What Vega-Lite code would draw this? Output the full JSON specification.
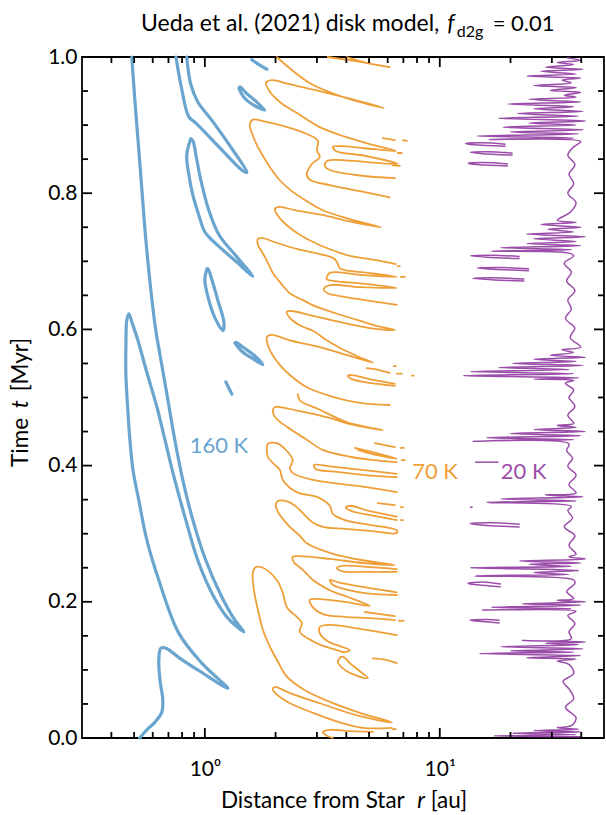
{
  "$schema": "https://vega.github.io/schema/vega-lite/v6.json",
  "width": 522,
  "height": 681,
  "autosize": "none",
  "padding": {"left": 82, "top": 57, "right": 2, "bottom": 77},
  "background": "white",
  "config": {
    "view": {"stroke": "#000", "strokeWidth": 1.8},
    "axis": {"domain": false, "grid": false, "ticks": false, "labelFont": "Lato", "labelFontSize": 21, "labelColor": "#000", "labelFlush": false, "labelOverlap": false},
    "text": {"font": "Lato", "color": "#000"}
  },
  "resolve": {"axis": {"x": "independent", "y": "independent"}},
  "datasets": {
    "ticks": [
      {"g":"a1","x":0,"t":0},{"g":"a1","x":0,"t":0.0147},{"g":"a2","x":0,"t":1},{"g":"a2","x":0,"t":0.9853},
      {"g":"a3","x":1,"t":0},{"g":"a3","x":1,"t":0.0147},{"g":"a4","x":1,"t":1},{"g":"a4","x":1,"t":0.9853},
      {"g":"mb1","x":-0.3979,"t":0},{"g":"mb1","x":-0.3979,"t":0.0088},{"g":"mt1","x":-0.3979,"t":1},{"g":"mt1","x":-0.3979,"t":0.9912},
      {"g":"mb2","x":-0.301,"t":0},{"g":"mb2","x":-0.301,"t":0.0088},{"g":"mt2","x":-0.301,"t":1},{"g":"mt2","x":-0.301,"t":0.9912},
      {"g":"mb3","x":-0.2218,"t":0},{"g":"mb3","x":-0.2218,"t":0.0088},{"g":"mt3","x":-0.2218,"t":1},{"g":"mt3","x":-0.2218,"t":0.9912},
      {"g":"mb4","x":-0.1549,"t":0},{"g":"mb4","x":-0.1549,"t":0.0088},{"g":"mt4","x":-0.1549,"t":1},{"g":"mt4","x":-0.1549,"t":0.9912},
      {"g":"mb5","x":-0.0969,"t":0},{"g":"mb5","x":-0.0969,"t":0.0088},{"g":"mt5","x":-0.0969,"t":1},{"g":"mt5","x":-0.0969,"t":0.9912},
      {"g":"mb6","x":-0.0458,"t":0},{"g":"mb6","x":-0.0458,"t":0.0088},{"g":"mt6","x":-0.0458,"t":1},{"g":"mt6","x":-0.0458,"t":0.9912},
      {"g":"mb7","x":0.301,"t":0},{"g":"mb7","x":0.301,"t":0.0088},{"g":"mt7","x":0.301,"t":1},{"g":"mt7","x":0.301,"t":0.9912},
      {"g":"mb8","x":0.4771,"t":0},{"g":"mb8","x":0.4771,"t":0.0088},{"g":"mt8","x":0.4771,"t":1},{"g":"mt8","x":0.4771,"t":0.9912},
      {"g":"mb9","x":0.6021,"t":0},{"g":"mb9","x":0.6021,"t":0.0088},{"g":"mt9","x":0.6021,"t":1},{"g":"mt9","x":0.6021,"t":0.9912},
      {"g":"mb10","x":0.699,"t":0},{"g":"mb10","x":0.699,"t":0.0088},{"g":"mt10","x":0.699,"t":1},{"g":"mt10","x":0.699,"t":0.9912},
      {"g":"mb11","x":0.7782,"t":0},{"g":"mb11","x":0.7782,"t":0.0088},{"g":"mt11","x":0.7782,"t":1},{"g":"mt11","x":0.7782,"t":0.9912},
      {"g":"mb12","x":0.8451,"t":0},{"g":"mb12","x":0.8451,"t":0.0088},{"g":"mt12","x":0.8451,"t":1},{"g":"mt12","x":0.8451,"t":0.9912},
      {"g":"mb13","x":0.9031,"t":0},{"g":"mb13","x":0.9031,"t":0.0088},{"g":"mt13","x":0.9031,"t":1},{"g":"mt13","x":0.9031,"t":0.9912},
      {"g":"mb14","x":0.9542,"t":0},{"g":"mb14","x":0.9542,"t":0.0088},{"g":"mt14","x":0.9542,"t":1},{"g":"mt14","x":0.9542,"t":0.9912},
      {"g":"mb15","x":1.301,"t":0},{"g":"mb15","x":1.301,"t":0.0088},{"g":"mt15","x":1.301,"t":1},{"g":"mt15","x":1.301,"t":0.9912},
      {"g":"mb16","x":1.4771,"t":0},{"g":"mb16","x":1.4771,"t":0.0088},{"g":"mt16","x":1.4771,"t":1},{"g":"mt16","x":1.4771,"t":0.9912},
      {"g":"mb17","x":1.6021,"t":0},{"g":"mb17","x":1.6021,"t":0.0088},{"g":"mt17","x":1.6021,"t":1},{"g":"mt17","x":1.6021,"t":0.9912},
      {"g":"yl2","x":-0.5229,"t":0.2},{"g":"yl2","x":-0.4803,"t":0.2},{"g":"yr2","x":1.699,"t":0.2},{"g":"yr2","x":1.6565,"t":0.2},
      {"g":"yl4","x":-0.5229,"t":0.4},{"g":"yl4","x":-0.4803,"t":0.4},{"g":"yr4","x":1.699,"t":0.4},{"g":"yr4","x":1.6565,"t":0.4},
      {"g":"yl6","x":-0.5229,"t":0.6},{"g":"yl6","x":-0.4803,"t":0.6},{"g":"yr6","x":1.699,"t":0.6},{"g":"yr6","x":1.6565,"t":0.6},
      {"g":"yl8","x":-0.5229,"t":0.8},{"g":"yl8","x":-0.4803,"t":0.8},{"g":"yr8","x":1.699,"t":0.8},{"g":"yr8","x":1.6565,"t":0.8},
      {"g":"nl1","x":-0.5229,"t":0.05},{"g":"nl1","x":-0.4974,"t":0.05},{"g":"nr1","x":1.699,"t":0.05},{"g":"nr1","x":1.6735,"t":0.05},
      {"g":"nl2","x":-0.5229,"t":0.1},{"g":"nl2","x":-0.4974,"t":0.1},{"g":"nr2","x":1.699,"t":0.1},{"g":"nr2","x":1.6735,"t":0.1},
      {"g":"nl3","x":-0.5229,"t":0.15},{"g":"nl3","x":-0.4974,"t":0.15},{"g":"nr3","x":1.699,"t":0.15},{"g":"nr3","x":1.6735,"t":0.15},
      {"g":"nl4","x":-0.5229,"t":0.25},{"g":"nl4","x":-0.4974,"t":0.25},{"g":"nr4","x":1.699,"t":0.25},{"g":"nr4","x":1.6735,"t":0.25},
      {"g":"nl5","x":-0.5229,"t":0.3},{"g":"nl5","x":-0.4974,"t":0.3},{"g":"nr5","x":1.699,"t":0.3},{"g":"nr5","x":1.6735,"t":0.3},
      {"g":"nl6","x":-0.5229,"t":0.35},{"g":"nl6","x":-0.4974,"t":0.35},{"g":"nr6","x":1.699,"t":0.35},{"g":"nr6","x":1.6735,"t":0.35},
      {"g":"nl7","x":-0.5229,"t":0.45},{"g":"nl7","x":-0.4974,"t":0.45},{"g":"nr7","x":1.699,"t":0.45},{"g":"nr7","x":1.6735,"t":0.45},
      {"g":"nl8","x":-0.5229,"t":0.5},{"g":"nl8","x":-0.4974,"t":0.5},{"g":"nr8","x":1.699,"t":0.5},{"g":"nr8","x":1.6735,"t":0.5},
      {"g":"nl9","x":-0.5229,"t":0.55},{"g":"nl9","x":-0.4974,"t":0.55},{"g":"nr9","x":1.699,"t":0.55},{"g":"nr9","x":1.6735,"t":0.55},
      {"g":"nl10","x":-0.5229,"t":0.65},{"g":"nl10","x":-0.4974,"t":0.65},{"g":"nr10","x":1.699,"t":0.65},{"g":"nr10","x":1.6735,"t":0.65},
      {"g":"nl11","x":-0.5229,"t":0.7},{"g":"nl11","x":-0.4974,"t":0.7},{"g":"nr11","x":1.699,"t":0.7},{"g":"nr11","x":1.6735,"t":0.7},
      {"g":"nl12","x":-0.5229,"t":0.75},{"g":"nl12","x":-0.4974,"t":0.75},{"g":"nr12","x":1.699,"t":0.75},{"g":"nr12","x":1.6735,"t":0.75},
      {"g":"nl13","x":-0.5229,"t":0.85},{"g":"nl13","x":-0.4974,"t":0.85},{"g":"nr13","x":1.699,"t":0.85},{"g":"nr13","x":1.6735,"t":0.85},
      {"g":"nl14","x":-0.5229,"t":0.9},{"g":"nl14","x":-0.4974,"t":0.9},{"g":"nr14","x":1.699,"t":0.9},{"g":"nr14","x":1.6735,"t":0.9},
      {"g":"nl15","x":-0.5229,"t":0.95},{"g":"nl15","x":-0.4974,"t":0.95},{"g":"nr15","x":1.699,"t":0.95},{"g":"nr15","x":1.6735,"t":0.95}
    ],
    "k160": [
      {"g":"b1","x":-0.311,"t":1.000},{"g":"b1","x":-0.298,"t":0.937},{"g":"b1","x":-0.281,"t":0.863},{"g":"b1","x":-0.268,"t":0.805},{"g":"b1","x":-0.251,"t":0.731},{"g":"b1","x":-0.230,"t":0.658},{"g":"b1","x":-0.209,"t":0.599},{"g":"b1","x":-0.187,"t":0.555},{"g":"b1","x":-0.157,"t":0.496},{"g":"b1","x":-0.128,"t":0.438},{"g":"b1","x":-0.094,"t":0.379},{"g":"b1","x":-0.051,"t":0.320},{"g":"b1","x":0.004,"t":0.261},{"g":"b1","x":0.068,"t":0.210},{"g":"b1","x":0.128,"t":0.173},{"g":"b1","x":0.166,"t":0.156},{"g":"b1","x":0.098,"t":0.176},{"g":"b1","x":0.034,"t":0.210},{"g":"b1","x":-0.030,"t":0.261},{"g":"b1","x":-0.081,"t":0.320},{"g":"b1","x":-0.128,"t":0.379},{"g":"b1","x":-0.170,"t":0.438},{"g":"b1","x":-0.204,"t":0.486},{"g":"b1","x":-0.247,"t":0.537},{"g":"b1","x":-0.285,"t":0.584},{"g":"b1","x":-0.311,"t":0.611},{"g":"b1","x":-0.323,"t":0.623},{"g":"b1","x":-0.332,"t":0.614},{"g":"b1","x":-0.336,"t":0.577},{"g":"b1","x":-0.336,"t":0.533},{"g":"b1","x":-0.328,"t":0.482},{"g":"b1","x":-0.319,"t":0.438},{"g":"b1","x":-0.306,"t":0.394},{"g":"b1","x":-0.281,"t":0.349},{"g":"b1","x":-0.247,"t":0.291},{"g":"b1","x":-0.196,"t":0.232},{"g":"b1","x":-0.111,"t":0.154},{"g":"b1","x":-0.013,"t":0.110},{"g":"b1","x":0.098,"t":0.073},{"g":"b1","x":-0.021,"t":0.098},{"g":"b1","x":-0.106,"t":0.117},{"g":"b1","x":-0.166,"t":0.132},{"g":"b1","x":-0.187,"t":0.132},{"g":"b1","x":-0.196,"t":0.115},{"g":"b1","x":-0.191,"t":0.085},{"g":"b1","x":-0.179,"t":0.056},{"g":"b1","x":-0.183,"t":0.038},{"g":"b1","x":-0.213,"t":0.023},{"g":"b1","x":-0.247,"t":0.012},{"g":"b1","x":-0.277,"t":0.000},
      {"g":"b2","x":-0.123,"t":1.000},{"g":"b2","x":-0.098,"t":0.952},{"g":"b2","x":-0.068,"t":0.912},{"g":"b2","x":-0.038,"t":0.903},{"g":"b2","x":0.060,"t":0.868},{"g":"b2","x":0.157,"t":0.834},{"g":"b2","x":0.179,"t":0.830},{"g":"b2","x":0.102,"t":0.872},{"g":"b2","x":0.030,"t":0.907},{"g":"b2","x":-0.030,"t":0.934},{"g":"b2","x":-0.060,"t":0.960},{"g":"b2","x":-0.077,"t":1.000},
      {"g":"b3","x":-0.060,"t":0.880},{"g":"b3","x":-0.077,"t":0.856},{"g":"b3","x":-0.068,"t":0.827},{"g":"b3","x":-0.051,"t":0.797},{"g":"b3","x":-0.026,"t":0.768},{"g":"b3","x":0.000,"t":0.743},{"g":"b3","x":0.034,"t":0.730},{"g":"b3","x":0.132,"t":0.700},{"g":"b3","x":0.204,"t":0.678},{"g":"b3","x":0.140,"t":0.705},{"g":"b3","x":0.060,"t":0.739},{"g":"b3","x":0.017,"t":0.775},{"g":"b3","x":-0.017,"t":0.819},{"g":"b3","x":-0.038,"t":0.856},{"g":"b3","x":-0.051,"t":0.877},{"g":"b3","x":-0.060,"t":0.880},
      {"g":"b4","x":0.009,"t":0.689},{"g":"b4","x":0.000,"t":0.673},{"g":"b4","x":0.017,"t":0.643},{"g":"b4","x":0.043,"t":0.617},{"g":"b4","x":0.077,"t":0.598},{"g":"b4","x":0.081,"t":0.611},{"g":"b4","x":0.055,"t":0.643},{"g":"b4","x":0.030,"t":0.673},{"g":"b4","x":0.013,"t":0.689},{"g":"b4","x":0.009,"t":0.689},
      {"g":"b5","x":0.145,"t":0.954},{"g":"b5","x":0.166,"t":0.941},{"g":"b5","x":0.200,"t":0.931},{"g":"b5","x":0.255,"t":0.922},{"g":"b5","x":0.217,"t":0.935},{"g":"b5","x":0.179,"t":0.946},{"g":"b5","x":0.149,"t":0.956},{"g":"b5","x":0.145,"t":0.954},
      {"g":"b6","x":0.200,"t":0.996},{"g":"b6","x":0.234,"t":0.988},{"g":"b6","x":0.264,"t":0.982},
      {"g":"b7","x":0.128,"t":0.580},{"g":"b7","x":0.157,"t":0.568},{"g":"b7","x":0.204,"t":0.557},{"g":"b7","x":0.247,"t":0.548},{"g":"b7","x":0.213,"t":0.561},{"g":"b7","x":0.166,"t":0.573},{"g":"b7","x":0.132,"t":0.581},{"g":"b7","x":0.128,"t":0.580},
      {"g":"b8","x":0.089,"t":0.523},{"g":"b8","x":0.102,"t":0.514},{"g":"b8","x":0.115,"t":0.505}
    ],
    "k70": [
      {"g":"o1","x":0.523,"t":1.000},{"g":"o1","x":0.660,"t":0.993},{"g":"o1","x":0.787,"t":0.985},{"g":"o1","x":0.694,"t":0.991},{"g":"o1","x":0.604,"t":1.000},
      {"g":"o2","x":0.306,"t":1.000},{"g":"o2","x":0.370,"t":0.981},{"g":"o2","x":0.455,"t":0.960},{"g":"o2","x":0.574,"t":0.943},{"g":"o2","x":0.681,"t":0.932},{"g":"o2","x":0.762,"t":0.925},{"g":"o2","x":0.638,"t":0.937},{"g":"o2","x":0.489,"t":0.950},{"g":"o2","x":0.362,"t":0.960},{"g":"o2","x":0.285,"t":0.966},{"g":"o2","x":0.260,"t":0.962},{"g":"o2","x":0.277,"t":0.949},{"g":"o2","x":0.319,"t":0.934},{"g":"o2","x":0.391,"t":0.918},{"g":"o2","x":0.489,"t":0.897},{"g":"o2","x":0.596,"t":0.883},{"g":"o2","x":0.702,"t":0.872},{"g":"o2","x":0.813,"t":0.862},{"g":"o2","x":0.681,"t":0.866},{"g":"o2","x":0.583,"t":0.869},{"g":"o2","x":0.545,"t":0.868},{"g":"o2","x":0.557,"t":0.862},{"g":"o2","x":0.681,"t":0.855},{"g":"o2","x":0.821,"t":0.843},{"g":"o2","x":0.681,"t":0.846},{"g":"o2","x":0.553,"t":0.849},{"g":"o2","x":0.519,"t":0.847},{"g":"o2","x":0.511,"t":0.840},{"g":"o2","x":0.532,"t":0.834},{"g":"o2","x":0.660,"t":0.826},{"g":"o2","x":0.809,"t":0.822},
      {"g":"o3","x":0.787,"t":0.794},{"g":"o3","x":0.660,"t":0.803},{"g":"o3","x":0.532,"t":0.812},{"g":"o3","x":0.451,"t":0.819},{"g":"o3","x":0.434,"t":0.827},{"g":"o3","x":0.455,"t":0.843},{"g":"o3","x":0.489,"t":0.853},{"g":"o3","x":0.477,"t":0.863},{"g":"o3","x":0.481,"t":0.877},{"g":"o3","x":0.447,"t":0.885},{"g":"o3","x":0.362,"t":0.896},{"g":"o3","x":0.247,"t":0.906},{"g":"o3","x":0.204,"t":0.908},{"g":"o3","x":0.191,"t":0.900},{"g":"o3","x":0.204,"t":0.885},{"g":"o3","x":0.221,"t":0.871},{"g":"o3","x":0.247,"t":0.855},{"g":"o3","x":0.277,"t":0.838},{"g":"o3","x":0.319,"t":0.819},{"g":"o3","x":0.370,"t":0.803},{"g":"o3","x":0.426,"t":0.790},{"g":"o3","x":0.502,"t":0.775},{"g":"o3","x":0.617,"t":0.762},{"g":"o3","x":0.749,"t":0.750},{"g":"o3","x":0.626,"t":0.758},{"g":"o3","x":0.498,"t":0.768},{"g":"o3","x":0.383,"t":0.775},{"g":"o3","x":0.319,"t":0.780},{"g":"o3","x":0.298,"t":0.777},{"g":"o3","x":0.311,"t":0.767},{"g":"o3","x":0.349,"t":0.753},{"g":"o3","x":0.404,"t":0.739},{"g":"o3","x":0.481,"t":0.725},{"g":"o3","x":0.562,"t":0.714},{"g":"o3","x":0.617,"t":0.708},{"g":"o3","x":0.723,"t":0.702},{"g":"o3","x":0.813,"t":0.696},
      {"g":"o4","x":0.817,"t":0.636},{"g":"o4","x":0.681,"t":0.643},{"g":"o4","x":0.574,"t":0.649},{"g":"o4","x":0.523,"t":0.653},{"g":"o4","x":0.506,"t":0.659},{"g":"o4","x":0.532,"t":0.665},{"g":"o4","x":0.660,"t":0.662},{"g":"o4","x":0.817,"t":0.661},{"g":"o4","x":0.681,"t":0.667},{"g":"o4","x":0.553,"t":0.671},{"g":"o4","x":0.519,"t":0.674},{"g":"o4","x":0.532,"t":0.683},{"g":"o4","x":0.660,"t":0.680},{"g":"o4","x":0.817,"t":0.677},{"g":"o4","x":0.694,"t":0.683},{"g":"o4","x":0.596,"t":0.687},{"g":"o4","x":0.574,"t":0.690},{"g":"o4","x":0.562,"t":0.699},{"g":"o4","x":0.545,"t":0.705},{"g":"o4","x":0.404,"t":0.717},{"g":"o4","x":0.298,"t":0.728},{"g":"o4","x":0.247,"t":0.734},{"g":"o4","x":0.226,"t":0.733},{"g":"o4","x":0.226,"t":0.724},{"g":"o4","x":0.243,"t":0.714},{"g":"o4","x":0.268,"t":0.698},{"g":"o4","x":0.289,"t":0.683},{"g":"o4","x":0.323,"t":0.668},{"g":"o4","x":0.362,"t":0.653},{"g":"o4","x":0.417,"t":0.643},{"g":"o4","x":0.477,"t":0.633},{"g":"o4","x":0.562,"t":0.623},{"g":"o4","x":0.647,"t":0.614},{"g":"o4","x":0.723,"t":0.606},{"g":"o4","x":0.809,"t":0.599},{"g":"o4","x":0.702,"t":0.602},{"g":"o4","x":0.574,"t":0.611},{"g":"o4","x":0.447,"t":0.621},{"g":"o4","x":0.370,"t":0.627},{"g":"o4","x":0.349,"t":0.626},{"g":"o4","x":0.362,"t":0.617},{"g":"o4","x":0.404,"t":0.606},{"g":"o4","x":0.460,"t":0.598},{"g":"o4","x":0.519,"t":0.584},{"g":"o4","x":0.574,"t":0.573},{"g":"o4","x":0.647,"t":0.561},{"g":"o4","x":0.715,"t":0.551},{"g":"o4","x":0.617,"t":0.561},{"g":"o4","x":0.489,"t":0.574},{"g":"o4","x":0.362,"t":0.584},{"g":"o4","x":0.285,"t":0.592},{"g":"o4","x":0.264,"t":0.589},{"g":"o4","x":0.268,"t":0.577},{"g":"o4","x":0.289,"t":0.562},{"g":"o4","x":0.319,"t":0.548},{"g":"o4","x":0.362,"t":0.533},{"g":"o4","x":0.434,"t":0.515},{"g":"o4","x":0.545,"t":0.501},{"g":"o4","x":0.660,"t":0.492},{"g":"o4","x":0.787,"t":0.489},
      {"g":"o5","x":0.689,"t":0.543},{"g":"o5","x":0.745,"t":0.540},{"g":"o5","x":0.787,"t":0.536},
      {"g":"o6","x":0.809,"t":0.520},{"g":"o6","x":0.702,"t":0.527},{"g":"o6","x":0.626,"t":0.533},{"g":"o6","x":0.609,"t":0.532},{"g":"o6","x":0.626,"t":0.527},{"g":"o6","x":0.711,"t":0.521},{"g":"o6","x":0.809,"t":0.517},
      {"g":"o7","x":0.396,"t":0.505},{"g":"o7","x":0.404,"t":0.496},{"g":"o7","x":0.489,"t":0.482},{"g":"o7","x":0.604,"t":0.464},{"g":"o7","x":0.757,"t":0.452},{"g":"o7","x":0.617,"t":0.461},{"g":"o7","x":0.532,"t":0.470},{"g":"o7","x":0.404,"t":0.480},{"g":"o7","x":0.332,"t":0.485},{"g":"o7","x":0.298,"t":0.486},{"g":"o7","x":0.289,"t":0.480},{"g":"o7","x":0.302,"t":0.470},{"g":"o7","x":0.349,"t":0.457},{"g":"o7","x":0.434,"t":0.438},{"g":"o7","x":0.502,"t":0.423},{"g":"o7","x":0.617,"t":0.413},{"g":"o7","x":0.723,"t":0.408},{"g":"o7","x":0.817,"t":0.405},
      {"g":"o8","x":0.817,"t":0.388},{"g":"o8","x":0.660,"t":0.394},{"g":"o8","x":0.532,"t":0.399},{"g":"o8","x":0.464,"t":0.401},{"g":"o8","x":0.472,"t":0.395},{"g":"o8","x":0.553,"t":0.391},{"g":"o8","x":0.681,"t":0.386},{"g":"o8","x":0.817,"t":0.383},
      {"g":"o9","x":0.638,"t":0.426},{"g":"o9","x":0.723,"t":0.419},{"g":"o9","x":0.817,"t":0.410},{"g":"o9","x":0.723,"t":0.416},{"g":"o9","x":0.651,"t":0.423},
      {"g":"o10","x":0.817,"t":0.361},{"g":"o10","x":0.672,"t":0.369},{"g":"o10","x":0.460,"t":0.379},{"g":"o10","x":0.374,"t":0.389},{"g":"o10","x":0.362,"t":0.396},{"g":"o10","x":0.374,"t":0.408},{"g":"o10","x":0.353,"t":0.420},{"g":"o10","x":0.306,"t":0.433},{"g":"o10","x":0.268,"t":0.432},{"g":"o10","x":0.264,"t":0.423},{"g":"o10","x":0.268,"t":0.413},{"g":"o10","x":0.298,"t":0.401},{"g":"o10","x":0.319,"t":0.394},{"g":"o10","x":0.332,"t":0.379},{"g":"o10","x":0.391,"t":0.361},{"g":"o10","x":0.477,"t":0.354},{"g":"o10","x":0.532,"t":0.341},{"g":"o10","x":0.545,"t":0.329},{"g":"o10","x":0.596,"t":0.320},{"g":"o10","x":0.702,"t":0.313},{"g":"o10","x":0.817,"t":0.305},{"g":"o10","x":0.817,"t":0.301},{"g":"o10","x":0.702,"t":0.304},{"g":"o10","x":0.596,"t":0.307},{"g":"o10","x":0.502,"t":0.310},{"g":"o10","x":0.460,"t":0.316},{"g":"o10","x":0.426,"t":0.327},{"g":"o10","x":0.391,"t":0.339},{"g":"o10","x":0.353,"t":0.347},{"g":"o10","x":0.311,"t":0.348},{"g":"o10","x":0.302,"t":0.342},{"g":"o10","x":0.311,"t":0.332},{"g":"o10","x":0.336,"t":0.320},{"g":"o10","x":0.362,"t":0.310},{"g":"o10","x":0.404,"t":0.297},{"g":"o10","x":0.434,"t":0.286},{"g":"o10","x":0.532,"t":0.272},{"g":"o10","x":0.672,"t":0.261},{"g":"o10","x":0.809,"t":0.254},{"g":"o10","x":0.672,"t":0.257},{"g":"o10","x":0.532,"t":0.263},{"g":"o10","x":0.404,"t":0.267},{"g":"o10","x":0.374,"t":0.266},{"g":"o10","x":0.379,"t":0.258},{"g":"o10","x":0.417,"t":0.247},{"g":"o10","x":0.460,"t":0.232},{"g":"o10","x":0.532,"t":0.217},{"g":"o10","x":0.617,"t":0.206},{"g":"o10","x":0.702,"t":0.194},{"g":"o10","x":0.596,"t":0.200},{"g":"o10","x":0.489,"t":0.204},{"g":"o10","x":0.447,"t":0.203},{"g":"o10","x":0.455,"t":0.194},{"g":"o10","x":0.502,"t":0.182},{"g":"o10","x":0.596,"t":0.178},{"g":"o10","x":0.702,"t":0.176},{"g":"o10","x":0.809,"t":0.173},
      {"g":"o11","x":0.817,"t":0.325},{"g":"o11","x":0.702,"t":0.333},{"g":"o11","x":0.617,"t":0.341},{"g":"o11","x":0.600,"t":0.338},{"g":"o11","x":0.626,"t":0.333},{"g":"o11","x":0.711,"t":0.327},{"g":"o11","x":0.817,"t":0.320},
      {"g":"o12","x":0.817,"t":0.248},{"g":"o12","x":0.702,"t":0.251},{"g":"o12","x":0.596,"t":0.253},{"g":"o12","x":0.562,"t":0.250},{"g":"o12","x":0.583,"t":0.245},{"g":"o12","x":0.702,"t":0.244},{"g":"o12","x":0.817,"t":0.244},
      {"g":"o13","x":0.817,"t":0.214},{"g":"o13","x":0.702,"t":0.220},{"g":"o13","x":0.574,"t":0.228},{"g":"o13","x":0.532,"t":0.232},{"g":"o13","x":0.545,"t":0.225},{"g":"o13","x":0.660,"t":0.214},{"g":"o13","x":0.817,"t":0.210},
      {"g":"o14","x":0.817,"t":0.151},{"g":"o14","x":0.681,"t":0.159},{"g":"o14","x":0.532,"t":0.166},{"g":"o14","x":0.489,"t":0.163},{"g":"o14","x":0.489,"t":0.154},{"g":"o14","x":0.523,"t":0.142},{"g":"o14","x":0.574,"t":0.135},{"g":"o14","x":0.617,"t":0.129},{"g":"o14","x":0.596,"t":0.126},{"g":"o14","x":0.562,"t":0.129},{"g":"o14","x":0.489,"t":0.137},{"g":"o14","x":0.460,"t":0.142},{"g":"o14","x":0.404,"t":0.156},{"g":"o14","x":0.413,"t":0.169},{"g":"o14","x":0.391,"t":0.178},{"g":"o14","x":0.349,"t":0.192},{"g":"o14","x":0.332,"t":0.213},{"g":"o14","x":0.306,"t":0.232},{"g":"o14","x":0.247,"t":0.250},{"g":"o14","x":0.217,"t":0.251},{"g":"o14","x":0.204,"t":0.242},{"g":"o14","x":0.209,"t":0.217},{"g":"o14","x":0.226,"t":0.188},{"g":"o14","x":0.247,"t":0.159},{"g":"o14","x":0.277,"t":0.134},{"g":"o14","x":0.311,"t":0.112},{"g":"o14","x":0.349,"t":0.090},{"g":"o14","x":0.426,"t":0.070},{"g":"o14","x":0.532,"t":0.053},{"g":"o14","x":0.660,"t":0.037},{"g":"o14","x":0.796,"t":0.023},{"g":"o14","x":0.660,"t":0.032},{"g":"o14","x":0.489,"t":0.051},{"g":"o14","x":0.362,"t":0.066},{"g":"o14","x":0.298,"t":0.075},{"g":"o14","x":0.289,"t":0.072},{"g":"o14","x":0.302,"t":0.065},{"g":"o14","x":0.362,"t":0.051},{"g":"o14","x":0.460,"t":0.037},{"g":"o14","x":0.574,"t":0.023},{"g":"o14","x":0.672,"t":0.015},{"g":"o14","x":0.796,"t":0.015},
      {"g":"o15","x":0.579,"t":0.119},{"g":"o15","x":0.566,"t":0.112},{"g":"o15","x":0.596,"t":0.100},{"g":"o15","x":0.651,"t":0.091},{"g":"o15","x":0.694,"t":0.088},{"g":"o15","x":0.660,"t":0.098},{"g":"o15","x":0.617,"t":0.110},{"g":"o15","x":0.591,"t":0.119},{"g":"o15","x":0.579,"t":0.119},
      {"g":"o16","x":0.715,"t":0.117},{"g":"o16","x":0.766,"t":0.115},{"g":"o16","x":0.817,"t":0.110},
      {"g":"o17","x":0.545,"t":0.000},{"g":"o17","x":0.515,"t":0.004},{"g":"o17","x":0.502,"t":0.009},{"g":"o17","x":0.532,"t":0.012},{"g":"o17","x":0.617,"t":0.010},{"g":"o17","x":0.715,"t":0.009},
      {"g":"o18","x":0.681,"t":0.185},{"g":"o18","x":0.809,"t":0.179},
      {"g":"d1","x":0.757,"t":0.881},{"g":"d1","x":0.809,"t":0.878},
      {"g":"d2","x":0.843,"t":0.878},{"g":"d2","x":0.860,"t":0.877},
      {"g":"d3","x":0.821,"t":0.859},{"g":"d3","x":0.838,"t":0.859},
      {"g":"d4","x":0.800,"t":0.841},{"g":"d4","x":0.830,"t":0.840},
      {"g":"d5","x":0.821,"t":0.693},{"g":"d5","x":0.830,"t":0.693},
      {"g":"d6","x":0.834,"t":0.677},{"g":"d6","x":0.851,"t":0.677},
      {"g":"d7","x":0.804,"t":0.546},{"g":"d7","x":0.813,"t":0.546},
      {"g":"d8","x":0.817,"t":0.535},{"g":"d8","x":0.838,"t":0.535},
      {"g":"d9","x":0.881,"t":0.532},{"g":"d9","x":0.889,"t":0.532},
      {"g":"d10","x":0.723,"t":0.433},{"g":"d10","x":0.809,"t":0.427},
      {"g":"d11","x":0.834,"t":0.426},{"g":"d11","x":0.847,"t":0.426},
      {"g":"d12","x":0.838,"t":0.408},{"g":"d12","x":0.851,"t":0.408},
      {"g":"d13","x":0.736,"t":0.345},{"g":"d13","x":0.809,"t":0.342},
      {"g":"d14","x":0.834,"t":0.339},{"g":"d14","x":0.843,"t":0.339},
      {"g":"d15","x":0.834,"t":0.320},{"g":"d15","x":0.843,"t":0.320},
      {"g":"d16","x":0.826,"t":0.172},{"g":"d16","x":0.847,"t":0.172},
      {"g":"d17","x":0.800,"t":0.013},{"g":"d17","x":0.813,"t":0.013}
    ],
    "k20": [
      {"g":"p0","x":1.60,"t":0.002},{"g":"p0","x":1.23,"t":0.003},{"g":"p0","x":1.58,"t":0.005},{"g":"p0","x":1.31,"t":0.007},{"g":"p0","x":1.60,"t":0.009},{"g":"p0","x":1.40,"t":0.011},{"g":"p0","x":1.59,"t":0.013},{"g":"p0","x":1.50,"t":0.015},{"g":"p0","x":1.56,"t":0.018},
      {"g":"p0","x":1.58,"t":0.030},{"g":"p0","x":1.535,"t":0.045},{"g":"p0","x":1.57,"t":0.058},{"g":"p0","x":1.55,"t":0.072},{"g":"p0","x":1.525,"t":0.083},{"g":"p0","x":1.57,"t":0.095},{"g":"p0","x":1.55,"t":0.108},
      {"g":"p0","x":1.50,"t":0.113},{"g":"p0","x":1.58,"t":0.116},{"g":"p0","x":1.37,"t":0.118},{"g":"p0","x":1.60,"t":0.121},{"g":"p0","x":1.17,"t":0.124},{"g":"p0","x":1.57,"t":0.126},{"g":"p0","x":1.30,"t":0.128},{"g":"p0","x":1.61,"t":0.131},{"g":"p0","x":1.26,"t":0.134},{"g":"p0","x":1.59,"t":0.137},{"g":"p0","x":1.45,"t":0.139},{"g":"p0","x":1.62,"t":0.141},{"g":"p0","x":1.35,"t":0.143},{"g":"p0","x":1.56,"t":0.146},
      {"g":"p0","x":1.55,"t":0.156},{"g":"p0","x":1.575,"t":0.168},{"g":"p0","x":1.545,"t":0.180},
      {"g":"p0","x":1.58,"t":0.186},{"g":"p0","x":1.18,"t":0.188},{"g":"p0","x":1.56,"t":0.190},{"g":"p0","x":1.22,"t":0.192},{"g":"p0","x":1.60,"t":0.195},{"g":"p0","x":1.35,"t":0.197},{"g":"p0","x":1.62,"t":0.200},{"g":"p0","x":1.50,"t":0.202},{"g":"p0","x":1.57,"t":0.205},
      {"g":"p0","x":1.54,"t":0.215},{"g":"p0","x":1.575,"t":0.227},
      {"g":"p0","x":1.57,"t":0.232},{"g":"p0","x":1.15,"t":0.238},{"g":"p0","x":1.55,"t":0.240},{"g":"p0","x":1.40,"t":0.243},{"g":"p0","x":1.59,"t":0.246},{"g":"p0","x":1.13,"t":0.250},{"g":"p0","x":1.56,"t":0.252},{"g":"p0","x":1.38,"t":0.255},{"g":"p0","x":1.60,"t":0.257},{"g":"p0","x":1.34,"t":0.260},{"g":"p0","x":1.62,"t":0.263},{"g":"p0","x":1.55,"t":0.266},{"g":"p0","x":1.58,"t":0.270},
      {"g":"p0","x":1.55,"t":0.283},{"g":"p0","x":1.575,"t":0.297},{"g":"p0","x":1.53,"t":0.310},{"g":"p0","x":1.565,"t":0.323},{"g":"p0","x":1.545,"t":0.334},
      {"g":"p0","x":1.56,"t":0.340},{"g":"p0","x":1.20,"t":0.346},{"g":"p0","x":1.58,"t":0.348},{"g":"p0","x":1.26,"t":0.351},{"g":"p0","x":1.61,"t":0.354},{"g":"p0","x":1.45,"t":0.357},{"g":"p0","x":1.58,"t":0.360},
      {"g":"p0","x":1.55,"t":0.372},{"g":"p0","x":1.58,"t":0.386},{"g":"p0","x":1.545,"t":0.399},{"g":"p0","x":1.565,"t":0.411},{"g":"p0","x":1.54,"t":0.422},
      {"g":"p0","x":1.55,"t":0.432},{"g":"p0","x":1.14,"t":0.436},{"g":"p0","x":1.57,"t":0.438},{"g":"p0","x":1.20,"t":0.441},{"g":"p0","x":1.60,"t":0.444},{"g":"p0","x":1.30,"t":0.447},{"g":"p0","x":1.62,"t":0.450},{"g":"p0","x":1.40,"t":0.453},{"g":"p0","x":1.58,"t":0.456},{"g":"p0","x":1.50,"t":0.459},{"g":"p0","x":1.57,"t":0.462},
      {"g":"p0","x":1.545,"t":0.474},{"g":"p0","x":1.575,"t":0.487},{"g":"p0","x":1.55,"t":0.500},{"g":"p0","x":1.57,"t":0.511},{"g":"p0","x":1.535,"t":0.521},
      {"g":"p0","x":1.57,"t":0.525},{"g":"p0","x":1.40,"t":0.527},{"g":"p0","x":1.59,"t":0.529},{"g":"p0","x":1.10,"t":0.532},{"g":"p0","x":1.57,"t":0.535},{"g":"p0","x":1.13,"t":0.538},{"g":"p0","x":1.55,"t":0.541},{"g":"p0","x":1.25,"t":0.544},{"g":"p0","x":1.61,"t":0.547},{"g":"p0","x":1.31,"t":0.550},{"g":"p0","x":1.58,"t":0.553},{"g":"p0","x":1.40,"t":0.556},{"g":"p0","x":1.62,"t":0.559},{"g":"p0","x":1.47,"t":0.562},{"g":"p0","x":1.57,"t":0.566},{"g":"p0","x":1.52,"t":0.570},{"g":"p0","x":1.60,"t":0.574},
      {"g":"p0","x":1.555,"t":0.588},{"g":"p0","x":1.575,"t":0.602},{"g":"p0","x":1.535,"t":0.616},{"g":"p0","x":1.56,"t":0.630},{"g":"p0","x":1.545,"t":0.643},{"g":"p0","x":1.575,"t":0.657},{"g":"p0","x":1.54,"t":0.671},{"g":"p0","x":1.56,"t":0.684},{"g":"p0","x":1.53,"t":0.697},{"g":"p0","x":1.57,"t":0.708},
      {"g":"p0","x":1.55,"t":0.712},{"g":"p0","x":1.22,"t":0.715},{"g":"p0","x":1.56,"t":0.717},{"g":"p0","x":1.26,"t":0.720},{"g":"p0","x":1.60,"t":0.723},{"g":"p0","x":1.37,"t":0.726},{"g":"p0","x":1.58,"t":0.729},{"g":"p0","x":1.40,"t":0.733},{"g":"p0","x":1.62,"t":0.736},{"g":"p0","x":1.37,"t":0.740},{"g":"p0","x":1.57,"t":0.743},{"g":"p0","x":1.46,"t":0.747},{"g":"p0","x":1.60,"t":0.750},{"g":"p0","x":1.43,"t":0.754},{"g":"p0","x":1.58,"t":0.757},{"g":"p0","x":1.50,"t":0.760},
      {"g":"p0","x":1.555,"t":0.772},{"g":"p0","x":1.58,"t":0.786},{"g":"p0","x":1.545,"t":0.800},{"g":"p0","x":1.57,"t":0.814},{"g":"p0","x":1.55,"t":0.828},{"g":"p0","x":1.575,"t":0.842},{"g":"p0","x":1.545,"t":0.856},{"g":"p0","x":1.57,"t":0.868},
      {"g":"p0","x":1.60,"t":0.876},{"g":"p0","x":1.21,"t":0.879},{"g":"p0","x":1.57,"t":0.881},{"g":"p0","x":1.16,"t":0.884},{"g":"p0","x":1.59,"t":0.887},{"g":"p0","x":1.30,"t":0.890},{"g":"p0","x":1.61,"t":0.893},{"g":"p0","x":1.27,"t":0.897},{"g":"p0","x":1.58,"t":0.900},{"g":"p0","x":1.38,"t":0.903},{"g":"p0","x":1.62,"t":0.906},{"g":"p0","x":1.25,"t":0.910},{"g":"p0","x":1.59,"t":0.913},{"g":"p0","x":1.33,"t":0.917},{"g":"p0","x":1.61,"t":0.920},{"g":"p0","x":1.40,"t":0.924},{"g":"p0","x":1.57,"t":0.927},{"g":"p0","x":1.29,"t":0.931},{"g":"p0","x":1.60,"t":0.934},{"g":"p0","x":1.38,"t":0.938},{"g":"p0","x":1.58,"t":0.941},
      {"g":"p0","x":1.53,"t":0.944},{"g":"p0","x":1.60,"t":0.948},{"g":"p0","x":1.47,"t":0.951},{"g":"p0","x":1.58,"t":0.955},{"g":"p0","x":1.40,"t":0.958},{"g":"p0","x":1.56,"t":0.962},{"g":"p0","x":1.52,"t":0.966},{"g":"p0","x":1.60,"t":0.969},{"g":"p0","x":1.37,"t":0.972},{"g":"p0","x":1.58,"t":0.975},{"g":"p0","x":1.43,"t":0.979},{"g":"p0","x":1.61,"t":0.982},{"g":"p0","x":1.45,"t":0.985},{"g":"p0","x":1.57,"t":0.989},{"g":"p0","x":1.50,"t":0.992},{"g":"p0","x":1.60,"t":0.995},{"g":"p0","x":1.54,"t":0.999},
      {"g":"q1","x":1.255,"t":0.169},{"g":"q1","x":1.18,"t":0.171},{"g":"q1","x":1.13,"t":0.173},{"g":"q1","x":1.20,"t":0.174},{"g":"q1","x":1.255,"t":0.173},
      {"g":"q2","x":1.26,"t":0.222},{"g":"q2","x":1.16,"t":0.225},{"g":"q2","x":1.12,"t":0.227},{"g":"q2","x":1.18,"t":0.229},{"g":"q2","x":1.26,"t":0.226},
      {"g":"q3","x":1.34,"t":0.310},{"g":"q3","x":1.20,"t":0.312},{"g":"q3","x":1.13,"t":0.315},{"g":"q3","x":1.22,"t":0.316},{"g":"q3","x":1.34,"t":0.314},
      {"g":"q4","x":1.128,"t":0.339},{"g":"q4","x":1.14,"t":0.339},
      {"g":"q5","x":1.15,"t":0.405},{"g":"q5","x":1.25,"t":0.405},
      {"g":"q6","x":1.36,"t":0.671},{"g":"q6","x":1.22,"t":0.673},{"g":"q6","x":1.14,"t":0.675},{"g":"q6","x":1.22,"t":0.676},{"g":"q6","x":1.36,"t":0.674},
      {"g":"q7","x":1.38,"t":0.686},{"g":"q7","x":1.25,"t":0.688},{"g":"q7","x":1.16,"t":0.690},{"g":"q7","x":1.25,"t":0.691},{"g":"q7","x":1.38,"t":0.689},
      {"g":"q8","x":1.34,"t":0.704},{"g":"q8","x":1.20,"t":0.706},{"g":"q8","x":1.13,"t":0.708},{"g":"q8","x":1.22,"t":0.709},{"g":"q8","x":1.34,"t":0.707},
      {"g":"q9","x":1.29,"t":0.840},{"g":"q9","x":1.16,"t":0.842},{"g":"q9","x":1.12,"t":0.844},{"g":"q9","x":1.18,"t":0.845},{"g":"q9","x":1.29,"t":0.843},
      {"g":"q10","x":1.31,"t":0.856},{"g":"q10","x":1.18,"t":0.858},{"g":"q10","x":1.13,"t":0.860},{"g":"q10","x":1.20,"t":0.861},{"g":"q10","x":1.31,"t":0.859},
      {"g":"q11","x":1.28,"t":0.869},{"g":"q11","x":1.15,"t":0.871},{"g":"q11","x":1.11,"t":0.873},{"g":"q11","x":1.18,"t":0.874},{"g":"q11","x":1.28,"t":0.872}
    ],
    "tags": [
      {"s":"160 K","k":"160 K","x":0.060,"t":0.429},
      {"s":"70 K","k":"70 K","x":0.980,"t":0.391},
      {"s":"20 K","k":"20 K","x":1.357,"t":0.391}
    ]
  },
  "layer": [
    {
      "data": {"name": "k160"},
      "mark": {"type": "line", "color": "#6aa5cf", "strokeWidth": 3.2, "strokeCap": "round", "strokeJoin": "round", "interpolate": "catmull-rom"},
      "encoding": {
        "x": {"field": "x", "type": "quantitative", "scale": {"domain": [-0.5229, 1.699], "nice": false, "zero": false},
              "axis": {"orient": "bottom", "values": [0, 1], "labelPadding": 20, "labelExpr": "datum.value == 0 ? '10⁰' : '10¹'", "title": null}},
        "y": {"field": "t", "type": "quantitative", "scale": {"domain": [0, 1], "nice": false, "zero": false},
              "axis": {"orient": "left", "values": [0, 0.2, 0.4, 0.6, 0.8, 1.0], "format": ".1f", "labelPadding": 5, "title": null}},
        "detail": {"field": "g"},
        "order": {"value": null}
      }
    },
    {
      "data": {"name": "k70"},
      "mark": {"type": "line", "color": "#ee9f38", "strokeWidth": 1.8, "strokeCap": "round", "strokeJoin": "round", "interpolate": "catmull-rom"},
      "encoding": {
        "x": {"field": "x", "type": "quantitative", "axis": null},
        "y": {"field": "t", "type": "quantitative", "axis": null},
        "detail": {"field": "g"},
        "order": {"value": null}
      }
    },
    {
      "data": {"name": "k20"},
      "mark": {"type": "line", "color": "#9b4ea9", "strokeWidth": 1.5, "strokeJoin": "round", "interpolate": "catmull-rom"},
      "encoding": {
        "x": {"field": "x", "type": "quantitative", "axis": null},
        "y": {"field": "t", "type": "quantitative", "axis": null},
        "detail": {"field": "g"},
        "order": {"value": null}
      }
    },
    {
      "data": {"name": "ticks"},
      "mark": {"type": "line", "color": "#000", "strokeWidth": 1.8, "strokeCap": "butt"},
      "encoding": {
        "x": {"field": "x", "type": "quantitative", "axis": null},
        "y": {"field": "t", "type": "quantitative", "axis": null},
        "detail": {"field": "g"},
        "order": {"value": null}
      }
    },
    {
      "data": {"name": "tags"},
      "mark": {"type": "text", "font": "Lato", "fontSize": 22, "baseline": "middle", "align": "center"},
      "encoding": {
        "x": {"field": "x", "type": "quantitative", "axis": null},
        "y": {"field": "t", "type": "quantitative", "axis": null},
        "text": {"field": "s"},
        "color": {"field": "k", "type": "nominal", "scale": {"domain": ["160 K", "70 K", "20 K"], "range": ["#6aa5cf", "#ee9f38", "#9b4ea9"]}, "legend": null}
      }
    },
    {
      "data": {"values": [{}]},
      "mark": {"type": "text", "text": "Ueda et al. (2021) disk model,", "fontSize": 23, "align": "right", "baseline": "alphabetic"},
      "encoding": {"x": {"datum": 0.998, "type": "quantitative", "axis": null}, "y": {"datum": 1.038, "type": "quantitative", "axis": null}}
    },
    {
      "data": {"values": [{}]},
      "mark": {"type": "text", "text": "f", "fontSize": 23, "fontStyle": "italic", "align": "left", "baseline": "alphabetic"},
      "encoding": {"x": {"datum": 1.032, "type": "quantitative", "axis": null}, "y": {"datum": 1.038, "type": "quantitative", "axis": null}}
    },
    {
      "data": {"values": [{}]},
      "mark": {"type": "text", "text": "d2g", "fontSize": 16, "align": "left", "baseline": "alphabetic"},
      "encoding": {"x": {"datum": 1.072, "type": "quantitative", "axis": null}, "y": {"datum": 1.030, "type": "quantitative", "axis": null}}
    },
    {
      "data": {"values": [{}]},
      "mark": {"type": "text", "text": "= 0.01", "fontSize": 22, "align": "left", "baseline": "alphabetic"},
      "encoding": {"x": {"datum": 1.225, "type": "quantitative", "axis": null}, "y": {"datum": 1.038, "type": "quantitative", "axis": null}}
    },
    {
      "data": {"values": [{}]},
      "mark": {"type": "text", "text": "Distance from Star", "fontSize": 22.5, "align": "right", "baseline": "alphabetic"},
      "encoding": {"x": {"datum": 0.851, "type": "quantitative", "axis": null}, "y": {"datum": -0.103, "type": "quantitative", "axis": null}}
    },
    {
      "data": {"values": [{}]},
      "mark": {"type": "text", "text": "r", "fontSize": 22.5, "fontStyle": "italic", "align": "left", "baseline": "alphabetic"},
      "encoding": {"x": {"datum": 0.904, "type": "quantitative", "axis": null}, "y": {"datum": -0.103, "type": "quantitative", "axis": null}}
    },
    {
      "data": {"values": [{}]},
      "mark": {"type": "text", "text": "[au]", "fontSize": 22.5, "align": "left", "baseline": "alphabetic"},
      "encoding": {"x": {"datum": 0.962, "type": "quantitative", "axis": null}, "y": {"datum": -0.103, "type": "quantitative", "axis": null}}
    },
    {
      "data": {"values": [{}]},
      "mark": {"type": "text", "text": "Time", "fontSize": 22.5, "angle": 270, "align": "right", "baseline": "alphabetic"},
      "encoding": {"x": {"datum": -0.753, "type": "quantitative", "axis": null}, "y": {"datum": 0.470, "type": "quantitative", "axis": null}}
    },
    {
      "data": {"values": [{}]},
      "mark": {"type": "text", "text": "t", "fontSize": 22.5, "fontStyle": "italic", "angle": 270, "align": "center", "baseline": "alphabetic"},
      "encoding": {"x": {"datum": -0.753, "type": "quantitative", "axis": null}, "y": {"datum": 0.490, "type": "quantitative", "axis": null}}
    },
    {
      "data": {"values": [{}]},
      "mark": {"type": "text", "text": "[Myr]", "fontSize": 22.5, "angle": 270, "align": "left", "baseline": "alphabetic"},
      "encoding": {"x": {"datum": -0.753, "type": "quantitative", "axis": null}, "y": {"datum": 0.509, "type": "quantitative", "axis": null}}
    }
  ]
}
